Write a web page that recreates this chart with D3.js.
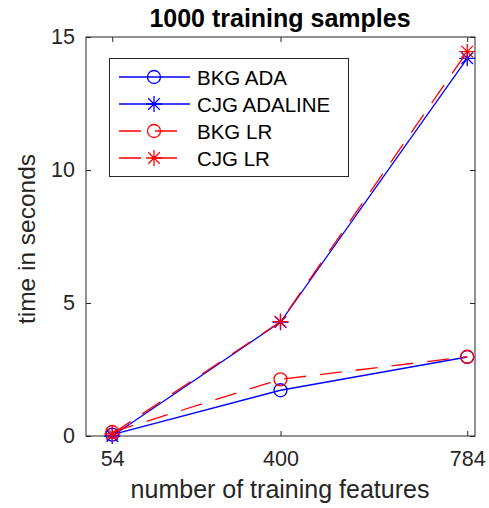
<!DOCTYPE html>
<html>
<head>
<meta charset="utf-8">
<script src="https://cdn.jsdelivr.net/npm/d3@7"></script>
<style>
  body { margin: 0; background: #fff; }
  svg { display: block; font-family: "Liberation Sans", Arial, sans-serif; }
</style>
</head>
<body>
<svg width="489" height="508"></svg>
<script>
var width = 489;
var height = 508;

// data
var features = [54, 400, 784];
var xTicks = [54, 400, 784];
var yTicks = [0, 5, 10, 15];
var bkgAda = [0.05, 1.72, 2.97];
var cjgAdaline = [0.0, 4.28, 14.2];
var bkgLr = [0.15, 2.13, 2.98];
var cjgLr = [0.08, 4.3, 14.45];

var seriesNames = ["BKG ADA", "CJG ADALINE", "BKG LR", "CJG LR"];
var seriesValues = [bkgAda, cjgAdaline, bkgLr, cjgLr];
var seriesColors = ["#0000ff", "#0000ff", "#ff0000", "#ff0000"];
var seriesMarkers = ["circle", "star", "circle", "star"];
var seriesDash = [null, null, "22,14", "22,14"];

var margin = {left: 86, right: 14, top: 37, bottom: 72};
var axisColor = "#262626";

var x = d3.scaleLinear().domain([0, 800]).range([margin.left, width - margin.right]);
var y = d3.scaleLinear().domain([0, 15]).range([height - margin.bottom, margin.top]);

var chart = d3.select("svg");

// title
chart.append("text")
    .attr("x", 280)
    .attr("y", 27)
    .attr("text-anchor", "middle")
    .attr("font-size", "25px")
    .attr("font-weight", "bold")
    .attr("fill", "#000")
    .text("1000 training samples");

// axes (box with ticks on all sides, ticks pointing in)
function styleAxis(g) {
    g.select(".domain").remove();
    g.selectAll(".tick line").attr("stroke", axisColor);
    g.selectAll(".tick text").attr("fill", axisColor).attr("font-size", "21.5px");
}

chart.append("g")
    .attr("transform", "translate(0," + y(0) + ")")
    .call(d3.axisBottom(x).tickValues(xTicks).tickSizeInner(-5).tickSizeOuter(0).tickPadding(15))
    .call(styleAxis)
    .attr("font-family", null);

chart.append("g")
    .attr("transform", "translate(0," + y(15) + ")")
    .call(d3.axisTop(x).tickValues(xTicks).tickSizeInner(-5).tickSizeOuter(0).tickFormat(""))
    .call(styleAxis);

chart.append("g")
    .attr("transform", "translate(" + x(0) + ",0)")
    .call(d3.axisLeft(y).tickValues(yTicks).tickSizeInner(-5).tickSizeOuter(0).tickPadding(11))
    .call(styleAxis)
    .attr("font-family", null);

chart.append("g")
    .attr("transform", "translate(" + x(800) + ",0)")
    .call(d3.axisRight(y).tickValues(yTicks).tickSizeInner(-5).tickSizeOuter(0).tickFormat(""))
    .call(styleAxis);

chart.append("rect")
    .attr("x", x(0))
    .attr("y", y(15))
    .attr("width", x(800) - x(0))
    .attr("height", y(0) - y(15))
    .attr("fill", "none")
    .attr("stroke", axisColor)
    .attr("stroke-width", 1);

// axis labels
chart.append("text")
    .attr("x", 280)
    .attr("y", 498)
    .attr("text-anchor", "middle")
    .attr("font-size", "25px")
    .attr("fill", axisColor)
    .text("number of training features");

chart.append("text")
    .attr("transform", "translate(35," + 239 + ") rotate(-90)")
    .attr("text-anchor", "middle")
    .attr("font-size", "24.5px")
    .attr("fill", axisColor)
    .text("time in seconds");

// marker drawing
function drawMarker(g, type, cx, cy, color, size) {
    if (type === "circle") {
        g.append("circle")
            .attr("cx", cx).attr("cy", cy).attr("r", size)
            .attr("fill", "none").attr("stroke", color).attr("stroke-width", 1.3);
    } else {
        var s = size + 1.5;
        var d = s * 0.72;
        var p = "M" + (cx - s) + "," + cy + "L" + (cx + s) + "," + cy +
            "M" + cx + "," + (cy - s) + "L" + cx + "," + (cy + s) +
            "M" + (cx - d) + "," + (cy - d) + "L" + (cx + d) + "," + (cy + d) +
            "M" + (cx - d) + "," + (cy + d) + "L" + (cx + d) + "," + (cy - d);
        g.append("path").attr("d", p).attr("stroke", color).attr("stroke-width", 1.3).attr("fill", "none");
    }
}

var line = d3.line()
    .x(function (d, i) { return x(features[i]); })
    .y(function (d) { return y(d); });

var plot = chart.append("g");
seriesValues.forEach(function (vals, k) {
    var g = plot.append("g");
    g.append("path")
        .attr("d", line(vals))
        .attr("fill", "none")
        .attr("stroke", seriesColors[k])
        .attr("stroke-width", 1.3)
        .attr("stroke-dasharray", seriesDash[k]);
    vals.forEach(function (v, i) {
        drawMarker(g, seriesMarkers[k], x(features[i]), y(v), seriesColors[k], 6.5);
    });
});

// legend
var legend = chart.append("g");
legend.append("rect")
    .attr("x", 109.5).attr("y", 58.5)
    .attr("width", 239).attr("height", 118)
    .attr("fill", "#fff")
    .attr("stroke", axisColor)
    .attr("stroke-width", 1);

seriesNames.forEach(function (name, k) {
    var ly = 77 + k * 27;
    legend.append("line")
        .attr("x1", 119).attr("x2", 190)
        .attr("y1", ly).attr("y2", ly)
        .attr("stroke", seriesColors[k])
        .attr("stroke-width", 1.3)
        .attr("stroke-dasharray", seriesDash[k]);
    drawMarker(legend, seriesMarkers[k], 154, ly, seriesColors[k], 6.5);
    legend.append("text")
        .attr("x", 197)
        .attr("y", ly + 7.5)
        .attr("font-size", "20.5px")
        .attr("fill", "#000")
        .text(name);
});
</script>
</body>
</html>
